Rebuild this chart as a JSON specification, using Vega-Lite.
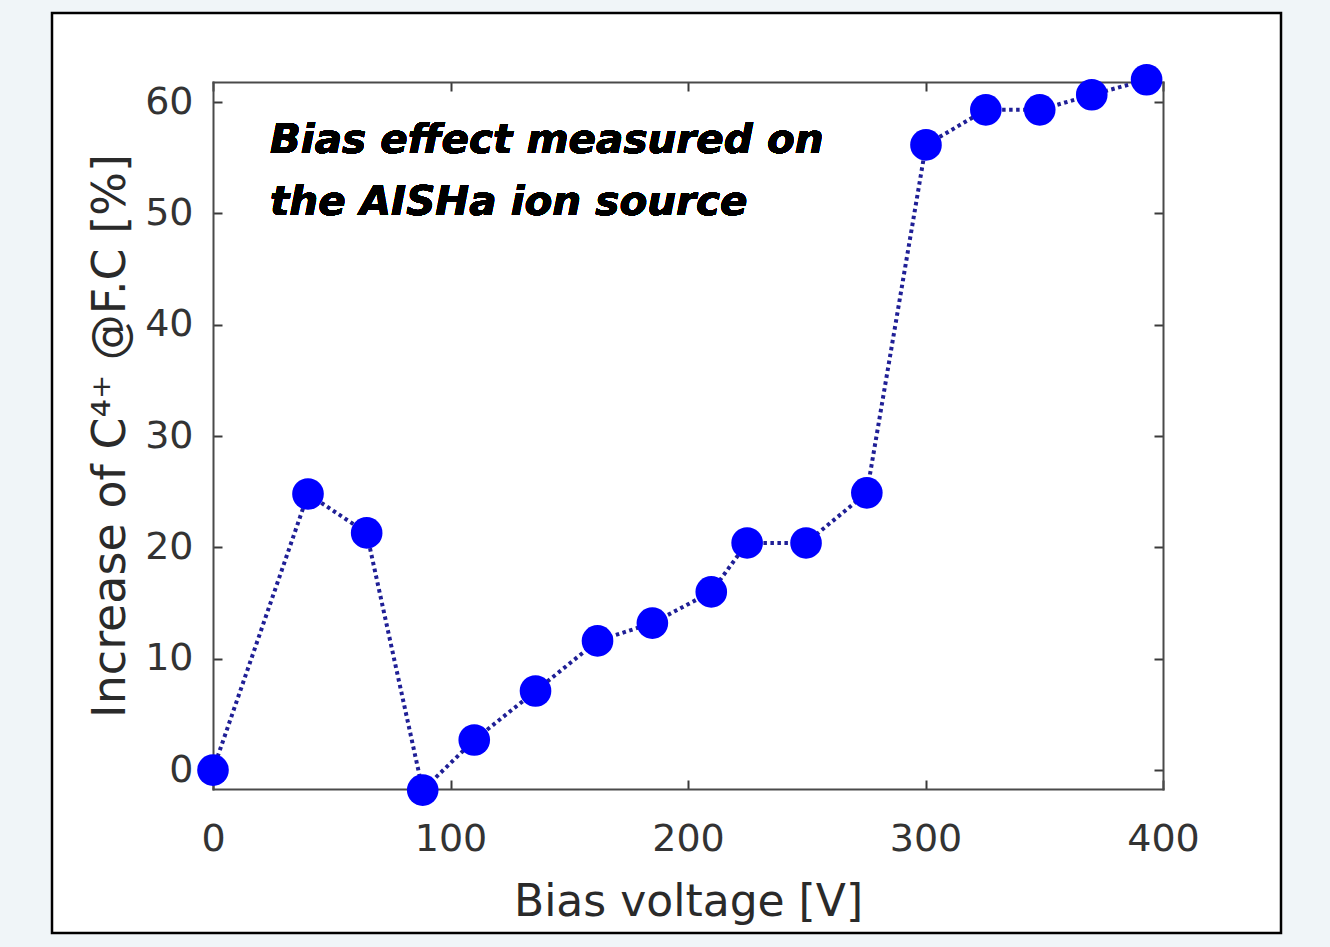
{
  "$schema": "https://vega.github.io/schema/vega-lite/v6.json",
  "width": 1229,
  "height": 920,
  "autosize": {"type": "none"},
  "padding": {"left": 52, "top": 13, "right": 49, "bottom": 14},
  "background": "#f0f5f8",
  "config": {
    "view": {"stroke": "black", "strokeWidth": 2.5, "fill": "white"},
    "font": "DejaVu Sans",
    "axis": {
      "domain": true,
      "domainColor": "#4a4a4a",
      "domainWidth": 2,
      "domainCap": "square",
      "grid": false,
      "labelFlush": false,
      "tickSize": -9,
      "tickWidth": 2,
      "tickColor": "#3a3a3a",
      "labelFont": "DejaVu Sans",
      "labelFontSize": 38,
      "labelColor": "#333333",
      "titleFont": "DejaVu Sans",
      "titleFontSize": 44,
      "titleFontWeight": "normal",
      "titleColor": "#2a2a2a"
    }
  },
  "data": {
    "values": [
      {"V": 0, "inc": 0},
      {"V": 40, "inc": 24.8},
      {"V": 64.7, "inc": 21.3},
      {"V": 88.3, "inc": -1.8},
      {"V": 110, "inc": 2.7},
      {"V": 135.8, "inc": 7.1},
      {"V": 161.9, "inc": 11.6},
      {"V": 185, "inc": 13.2},
      {"V": 209.8, "inc": 16.0},
      {"V": 224.9, "inc": 20.4},
      {"V": 249.7, "inc": 20.4},
      {"V": 275.3, "inc": 24.9},
      {"V": 300.2, "inc": 56.15},
      {"V": 325.4, "inc": 59.3},
      {"V": 348.1, "inc": 59.3},
      {"V": 370, "inc": 60.65},
      {"V": 393.1, "inc": 62.0}
    ]
  },
  "layer": [
    {
      "mark": {
        "type": "line",
        "color": "#1f1f96",
        "strokeWidth": 4,
        "strokeDash": [3.5, 3.5],
        "strokeCap": "butt"
      },
      "encoding": {
        "x": {
          "field": "V",
          "type": "quantitative",
          "scale": {"domain": [0, 400], "range": [161, 1111], "nice": false, "zero": false},
          "axis": {
            "orient": "bottom",
            "offset": -144,
            "values": [0, 100, 200, 300, 400],
            "title": "Bias voltage [V]",
            "labelPadding": 40,
            "titlePadding": 22
          }
        },
        "y": {
          "field": "inc",
          "type": "quantitative",
          "scale": {"domain": [-1.7, 61.8], "range": [776, 69], "nice": false, "zero": false},
          "axis": {
            "orient": "left",
            "offset": -161,
            "values": [0, 10, 20, 30, 40, 50, 60],
            "title": "Increase of C⁴⁺  @F.C [%]",
            "titleFontSize": 46,
            "labelPadding": 29,
            "titlePadding": 10
          }
        }
      }
    },
    {
      "mark": {"type": "circle", "size": 1000, "color": "#0000ff", "opacity": 1},
      "encoding": {
        "x": {
          "field": "V",
          "type": "quantitative",
          "axis": {
            "orient": "top",
            "offset": -69,
            "values": [0, 100, 200, 300, 400],
            "labels": false,
            "title": null
          }
        },
        "y": {
          "field": "inc",
          "type": "quantitative",
          "axis": {
            "orient": "right",
            "offset": -118,
            "values": [0, 10, 20, 30, 40, 50, 60],
            "labels": false,
            "title": null
          }
        }
      }
    },
    {
      "mark": {
        "type": "text",
        "text": ["Bias effect measured on", "the AISHa ion source"],
        "font": "DejaVu Sans",
        "fontSize": 40.5,
        "fontWeight": "bold",
        "fontStyle": "italic",
        "align": "left",
        "baseline": "alphabetic",
        "lineHeight": 62,
        "color": "black"
      },
      "encoding": {
        "x": {"datum": 24, "axis": null},
        "y": {"datum": 55.4, "axis": null}
      }
    }
  ],
  "resolve": {"axis": {"x": "independent", "y": "independent"}}
}
